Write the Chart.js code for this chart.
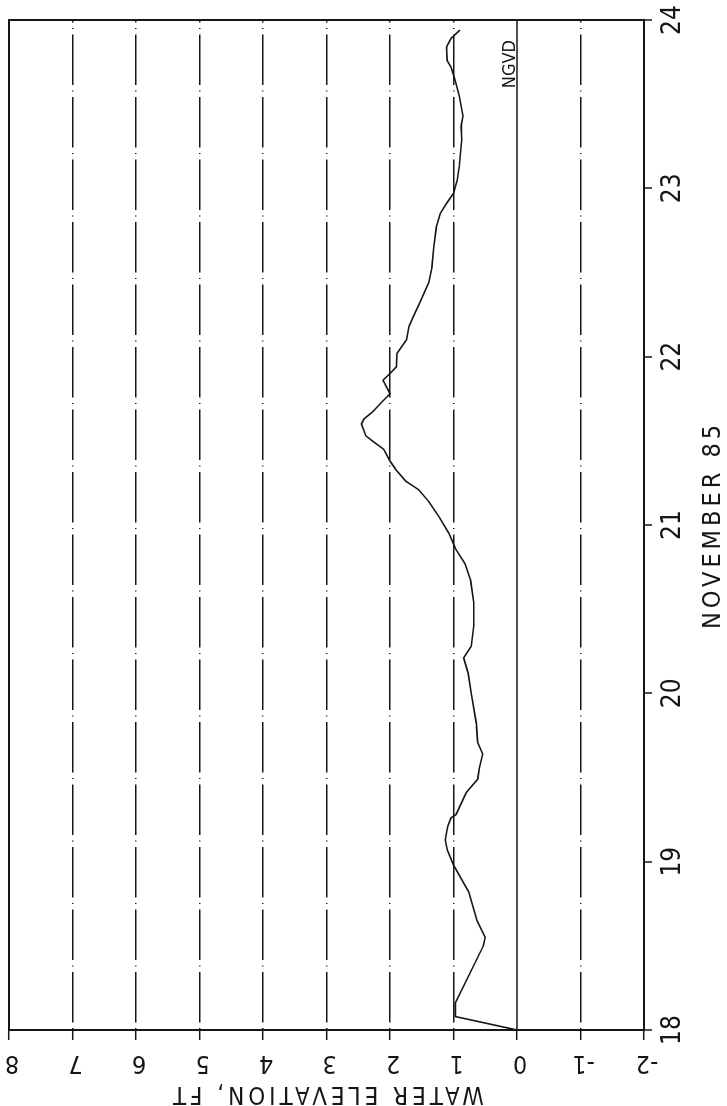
<!DOCTYPE html>
<html>
<head>
<meta charset="utf-8">
<script src="https://cdn.jsdelivr.net/npm/chart.js@4.4.0/dist/chart.umd.min.js"></script>
<style>
  html, body { margin: 0; padding: 0; background: #fff; overflow: hidden; }
  #wrap { position: relative; width: 727px; height: 1106px; }
  /* the plot is drawn landscape and turned a quarter left, like the scanned page */
  #chart { position: absolute; left: 0; top: 0; transform-origin: 0 0; transform: translate(0, 1106px) rotate(-90deg); }
</style>
</head>
<body>
<div id="wrap"><canvas id="chart" width="1106" height="727"></canvas></div>
<script>
const days = [18.00, 18.08, 18.16, 18.50, 18.55, 18.65, 18.82, 18.98, 19.07, 19.13,
  19.21, 19.26, 19.28, 19.41, 19.49, 19.56, 19.64, 19.71, 19.82, 20.00,
  20.12, 20.21, 20.28, 20.40, 20.54, 20.67, 20.77, 20.86, 20.95, 21.05,
  21.14, 21.21, 21.26, 21.33, 21.38, 21.45, 21.50, 21.53, 21.60, 21.63,
  21.67, 21.73, 21.78, 21.86, 21.90, 21.94, 22.02, 22.10, 22.18, 22.24,
  22.32, 22.44, 22.53, 22.65, 22.77, 22.85, 22.91, 22.97, 23.05, 23.13,
  23.29, 23.37, 23.43, 23.55, 23.65, 23.72, 23.76, 23.84, 23.89, 23.94];
const elevations = [0.00, 0.97, 0.97, 0.53, 0.50, 0.63, 0.76, 1.00, 1.10, 1.13,
  1.09, 1.04, 0.96, 0.80, 0.62, 0.59, 0.54, 0.62, 0.64, 0.72,
  0.77, 0.84, 0.72, 0.68, 0.68, 0.73, 0.82, 0.97, 1.07, 1.23,
  1.39, 1.55, 1.75, 1.91, 2.00, 2.10, 2.28, 2.38, 2.45, 2.41,
  2.28, 2.13, 2.00, 2.11, 2.00, 1.90, 1.89, 1.74, 1.70, 1.63,
  1.53, 1.39, 1.34, 1.31, 1.27, 1.21, 1.11, 1.00, 0.94, 0.91,
  0.87, 0.88, 0.85, 0.91, 0.98, 1.04, 1.10, 1.11, 1.04, 0.90];
const dayTicks = [18, 19, 20, 21, 22, 23, 24];
const elevTicks = [-2, -1, 0, 1, 2, 3, 4, 5, 6, 7, 8];
const dayTitle = "NOVEMBER 85";
const elevTitle = "WATER ELEVATION, FT";
const datumLabel = "NGVD";

const ink = "#161616";
const narrow = '"Liberation Sans Narrow", "DejaVu Sans Condensed", "Liberation Sans", sans-serif';

const points = days.map((d, i) => ({ x: d, y: elevations[i] }));

// labels, datum line and frame drawn against the chart's own scales
const plotterText = {
  id: "plotterText",
  beforeDatasetsDraw(chart) {
    const { ctx, chartArea, scales } = chart;
    const y0 = scales.y.getPixelForValue(0);
    ctx.save();
    ctx.strokeStyle = ink;
    ctx.lineWidth = 1.5;
    ctx.beginPath();
    ctx.moveTo(chartArea.left, y0);
    ctx.lineTo(chartArea.right, y0);
    ctx.stroke();
    ctx.lineWidth = 2;
    ctx.strokeRect(chartArea.left, chartArea.top, chartArea.right - chartArea.left, chartArea.bottom - chartArea.top);
    ctx.restore();
  },
  afterDraw(chart) {
    const { ctx, chartArea, scales } = chart;
    const xs = scales.x, ys = scales.y;
    ctx.save();
    ctx.fillStyle = ink;
    ctx.textBaseline = "alphabetic";
    ctx.textAlign = "center";

    ctx.font = "26px " + narrow;
    dayTicks.forEach(d => ctx.fillText(String(d), xs.getPixelForValue(d), chartArea.bottom + 36));

    ctx.font = "25px " + narrow;
    ctx.letterSpacing = "4px";
    ctx.fillText(dayTitle, (chartArea.left + chartArea.right) / 2, chartArea.bottom + 76);
    ctx.letterSpacing = "0px";

    ctx.font = "25px " + narrow;
    elevTicks.forEach(v => {
      ctx.save();
      ctx.translate(chartArea.left - 26, ys.getPixelForValue(v) + 3);
      ctx.rotate(-Math.PI / 2);
      ctx.fillText(String(v), 0, 0);
      ctx.restore();
    });

    ctx.save();
    ctx.font = "24px " + narrow;
    ctx.letterSpacing = "4px";
    ctx.translate(chartArea.left - 57, (chartArea.top + chartArea.bottom) / 2);
    ctx.rotate(-Math.PI / 2);
    ctx.fillText(elevTitle, 0, 0);
    ctx.restore();

    ctx.font = "18px " + narrow;
    ctx.textAlign = "right";
    ctx.fillText(datumLabel, chartArea.right - 20, ys.getPixelForValue(0) - 2);
    ctx.restore();
  }
};

new Chart(document.getElementById("chart"), {
  type: "line",
  data: {
    datasets: [{
      label: "Water elevation",
      data: points,
      borderColor: ink,
      borderWidth: 1.6,
      pointRadius: 0,
      tension: 0,
      fill: false
    }]
  },
  options: {
    responsive: false,
    animation: false,
    layout: { padding: { top: 9, right: 20, left: 0, bottom: 0 } },
    plugins: { legend: { display: false }, tooltip: { enabled: false } },
    scales: {
      x: {
        type: "linear",
        min: 18,
        max: 24,
        afterBuildTicks: s => { s.ticks = dayTicks.map(v => ({ value: v })); },
        afterFit: s => { s.height = 83; },
        ticks: { display: false },
        grid: {
          color: c => (c.tick && c.tick.value === 24 ? ink : "rgba(0,0,0,0)"),
          lineWidth: 2,
          tickColor: ink,
          tickLength: 8,
          tickWidth: 1.5
        },
        border: { color: ink, width: 2 }
      },
      y: {
        type: "linear",
        min: -2,
        max: 8,
        afterBuildTicks: s => { s.ticks = elevTicks.map(v => ({ value: v })); },
        afterFit: s => { s.width = 76; },
        ticks: { display: false },
        grid: {
          color: c => (c.tick && [0, 8, -2].includes(c.tick.value) ? "rgba(0,0,0,0)" : ink),
          lineWidth: 1.4,
          tickColor: ink,
          tickLength: 10,
          tickWidth: 1.5
        },
        border: { color: ink, width: 2, dash: [50.5, 5.5, 1, 5.5], dashOffset: 56 }
      }
    }
  },
  plugins: [plotterText]
});
</script>
</body>
</html>
